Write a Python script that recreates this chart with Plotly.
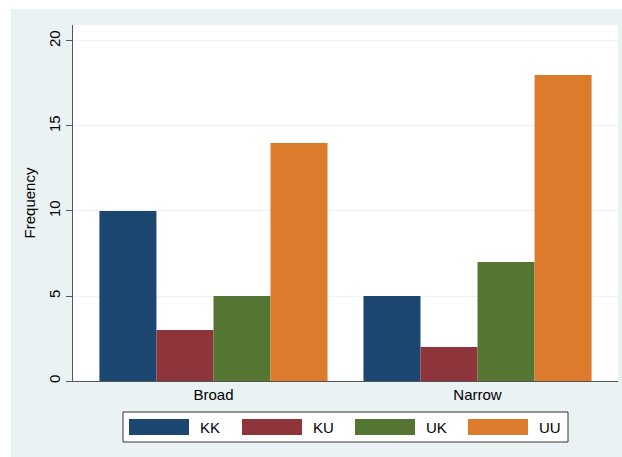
import plotly.graph_objects as go

categories = ["Broad", "Narrow"]
series_names = ["KK", "KU", "UK", "UU"]
kk = [10, 5]
ku = [3, 2]
uk = [5, 7]
uu = [14, 18]
series_values = [kk, ku, uk, uu]
colors = ["#1A4670", "#8E353C", "#557532", "#DC7B2B"]
y_ticks = [0, 5, 10, 15, 20]

BG = "#EAF2F3"
FONT = "Liberation Sans, Arial, sans-serif"

W, H = 622, 457
ML, MR, MT, MB = 73, 4, 25, 76
PW, PH = W - ML - MR, H - MT - MB


def px_x(x):
    return (x - ML) / PW


def px_y(y):
    return (H - MB - y) / PH


fig = go.Figure()
for name, vals, col in zip(series_names, series_values, colors):
    fig.add_trace(go.Bar(
        x=categories, y=vals, name=name,
        marker=dict(color=col, line=dict(width=0)),
        showlegend=False,
    ))

fig.update_layout(
    width=W, height=H,
    barmode="group", bargap=0.136, bargroupgap=0,
    paper_bgcolor=BG, plot_bgcolor="white",
    margin=dict(l=ML, r=MR, t=MT, b=MB, pad=0, autoexpand=False),
    font=dict(family=FONT, size=15, color="#000000"),
    showlegend=False,
    xaxis=dict(
        range=[-0.532, 1.532], showgrid=False, showline=True,
        linecolor="#555555", linewidth=1, ticks="", tickfont=dict(size=15),
        zeroline=False, automargin=False,
    ),
    yaxis=dict(
        range=[0, 20.94], tickvals=y_ticks, ticktext=[str(t) for t in y_ticks],
        tickangle=-90, ticks="outside", ticklen=6, tickcolor="#555555",
        showline=True, linecolor="#555555", linewidth=1,
        showgrid=True, gridcolor=BG, gridwidth=1, zeroline=False,
        title=dict(text="Frequency", font=dict(size=15), standoff=6),
        tickfont=dict(size=15), automargin=False,
    ),
)

# white margin strips outside the light background panel (top and left)
fig.add_shape(type="rect", xref="paper", yref="paper",
              x0=px_x(-50), x1=px_x(W + 50), y0=px_y(9), y1=px_y(-50),
              fillcolor="white", line=dict(width=0), layer="below")
fig.add_shape(type="rect", xref="paper", yref="paper",
              x0=px_x(-50), x1=px_x(11), y0=px_y(H + 50), y1=px_y(-50),
              fillcolor="white", line=dict(width=0), layer="below")

# legend box (Stata style, wide swatches)
LEG_X0, LEG_X1, LEG_Y0, LEG_Y1 = 123, 568, 412, 442
ENTRY_W, SW_OFF, SW_W, SW_H, TXT_OFF = 113, 6, 60, 16, 75
fig.add_shape(type="rect", xref="paper", yref="paper",
              x0=px_x(LEG_X0), x1=px_x(LEG_X1), y0=px_y(LEG_Y1), y1=px_y(LEG_Y0),
              fillcolor="white", line=dict(color="#333333", width=1))
yc = (LEG_Y0 + LEG_Y1) / 2
for i, (name, col) in enumerate(zip(series_names, colors)):
    sx = LEG_X0 + SW_OFF + ENTRY_W * i
    fig.add_shape(type="rect", xref="paper", yref="paper",
                  x0=px_x(sx), x1=px_x(sx + SW_W),
                  y0=px_y(yc + SW_H / 2), y1=px_y(yc - SW_H / 2),
                  fillcolor=col, line=dict(width=0))
    fig.add_annotation(xref="paper", yref="paper",
                       x=px_x(LEG_X0 + TXT_OFF + ENTRY_W * i), y=px_y(yc),
                       text=name, showarrow=False, xanchor="left", yanchor="middle",
                       font=dict(size=15, color="#000000"))

fig.write_html(
    "out.html",
    config={"displayModeBar": False},
    post_script="document.body.style.margin='0';document.body.style.overflow='hidden';",
)
